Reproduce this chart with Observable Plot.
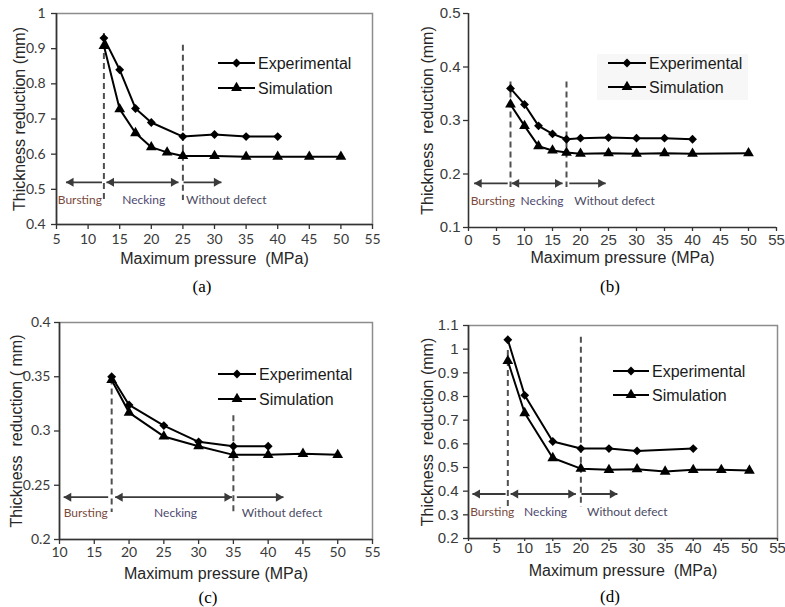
<!DOCTYPE html>
<html><head><meta charset="utf-8">
<script src="https://cdn.jsdelivr.net/npm/d3@7"></script>
<script src="https://cdn.jsdelivr.net/npm/@observablehq/plot@0.6"></script>
<style>
body{margin:0;background:#fff;}
#wrap{position:relative;width:785px;height:607px;overflow:hidden;background:#fff;}
.panel{position:absolute;}
.cap{position:absolute;font-family:"Liberation Serif","Times New Roman",serif;font-size:17px;color:#000;transform:translate(-50%,-50%);white-space:nowrap;}
#overlay{position:absolute;left:0;top:0;pointer-events:none;}
</style></head><body><div id="wrap"></div>
<script>
// ---------- data ----------
const regionNames = ["Bursting", "Necking", "Without defect"];
const regionColors = ["#7a4a3c", "#4e4870", "#4a4a62"];
const seriesNames = ["Experimental", "Simulation"];
const captions = ["(a)", "(b)", "(c)", "(d)"];

// panel (a)
const aExpX = [12.5, 15, 17.5, 20, 25, 30, 35, 40];
const aExpY = [0.93, 0.84, 0.73, 0.69, 0.65, 0.656, 0.65, 0.65];
const aSimX = [12.5, 15, 17.5, 20, 22.5, 25, 30, 35, 40, 45, 50];
const aSimY = [0.908, 0.728, 0.66, 0.62, 0.605, 0.595, 0.595, 0.593, 0.593, 0.593, 0.593];
const aXTicks = [5, 10, 15, 20, 25, 30, 35, 40, 45, 50, 55];
const aYTicks = [0.4, 0.5, 0.6, 0.7, 0.8, 0.9, 1];
const aDashX = [12.5, 25], aDashTop = [0.943, 0.91], aDashBottom = [0.463, 0.468];
const aArrowY = 0.52;
const aArrowFrom = [6.5, 12.9, 25.1], aArrowTo = [12.2, 24.3, 31.1];
const aHeadsLeft = [6.5, 12.9], aHeadsRight = [24.3, 31.1];
const aRegionX = [5.2, 15.4, 25.5], aRegionY = 0.47;

// panel (b)
const bExpX = [7.5, 10, 12.5, 15, 17.5, 20, 25, 30, 35, 40];
const bExpY = [0.36, 0.33, 0.29, 0.275, 0.265, 0.267, 0.268, 0.267, 0.267, 0.265];
const bSimX = [7.5, 10, 12.5, 15, 17.5, 20, 25, 30, 35, 40, 50];
const bSimY = [0.33, 0.29, 0.252, 0.244, 0.24, 0.238, 0.239, 0.238, 0.239, 0.238, 0.239];
const bXTicks = [0, 5, 10, 15, 20, 25, 30, 35, 40, 45, 50, 55];
const bYTicks = [0.1, 0.2, 0.3, 0.4, 0.5];
const bDashX = [7.5, 17.5], bDashTop = [0.372, 0.372], bDashBottom = [0.175, 0.175];
const bArrowY = 0.1825;
const bArrowFrom = [1.0, 7.7, 18.0], bArrowTo = [7.0, 16.8, 24.5];
const bHeadsLeft = [1.0, 7.7], bHeadsRight = [16.8, 24.5];
const bRegionX = [0.4, 9.3, 18.9], bRegionY = 0.15;

// panel (c)
const cExpX = [17.5, 20, 25, 30, 35, 40];
const cExpY = [0.35, 0.324, 0.305, 0.29, 0.286, 0.286];
const cSimX = [17.5, 20, 25, 30, 35, 40, 45, 50];
const cSimY = [0.347, 0.317, 0.295, 0.286, 0.278, 0.278, 0.279, 0.278];
const cXTicks = [10, 15, 20, 25, 30, 35, 40, 45, 50, 55];
const cYTicks = [0.2, 0.25, 0.3, 0.35, 0.4];
const cDashX = [17.5, 35], cDashTop = [0.348, 0.314], cDashBottom = [0.225, 0.224];
const cArrowY = 0.239;
const cArrowFrom = [10.6, 18.0, 35.5], cArrowTo = [17.0, 34.8, 42.2];
const cHeadsLeft = [10.6, 18.0], cHeadsRight = [34.8, 42.2];
const cRegionX = [10.6, 23.6, 36.2], cRegionY = 0.2245;

// panel (d)
const dExpX = [7, 10, 15, 20, 25, 30, 40];
const dExpY = [1.04, 0.805, 0.61, 0.58, 0.58, 0.57, 0.58];
const dSimX = [7, 10, 15, 20, 25, 30, 35, 40, 45, 50];
const dSimY = [0.95, 0.73, 0.54, 0.495, 0.49, 0.493, 0.483, 0.49, 0.49, 0.487];
const dXTicks = [0, 5, 10, 15, 20, 25, 30, 35, 40, 45, 50, 55];
const dYTicks = [0.2, 0.3, 0.4, 0.5, 0.6, 0.7, 0.8, 0.9, 1, 1.1];
const dDashX = [7, 20], dDashTop = [0.994, 1.05], dDashBottom = [0.331, 0.331];
const dArrowY = 0.388;
const dArrowFrom = [0.7, 7.5, 20.1], dArrowTo = [6.6, 19.1, 26.5];
const dHeadsLeft = [0.7, 7.5], dHeadsRight = [19.1, 26.5];
const dRegionX = [0.3, 9.9, 21.1], dRegionY = 0.31;

// ---------- drawing ----------
const fmt = d => String(+(+d).toFixed(2));
const wrap = document.getElementById("wrap");

function panel(c) {
  const exp = c.expX.map((x, i) => ({x, y: c.expY[i]}));
  const sim = c.simX.map((x, i) => ({x, y: c.simY[i]}));
  const dash = c.dashX.map((x, i) => ({x, y1: c.dashTop[i], y2: c.dashBottom[i]}));
  const arrows = c.arrowFrom.map((x1, i) => ({x1, x2: c.arrowTo[i], y: c.arrowY}));
  const hl = c.headsLeft.map(x => ({x, y: c.arrowY}));
  const hr = c.headsRight.map(x => ({x, y: c.arrowY}));
  const marks = [];
  if (c.framed) marks.push(Plot.frame({stroke: "#8c8c8c", strokeWidth: 1.5}));
  marks.push(
    Plot.ruleX([c.xDomain[0]], {stroke: "#333", strokeWidth: 1.6}),
    Plot.ruleY([c.yDomain[0]], {stroke: "#333", strokeWidth: 1.6}),
    Plot.axisX({ticks: c.xTicks, tickFormat: fmt, tickSize: c.xTickSize, tickPadding: c.xTickPad, label: null,
      fontSize: c.tickFont, fontFamily: c.tickFamily, fill: "#3a3a3a", stroke: "#333", strokeWidth: 1.3}),
    Plot.axisY({ticks: c.yTicks, tickFormat: fmt, tickSize: 5, tickPadding: c.yTickPad, label: null,
      fontSize: c.tickFont, fontFamily: c.tickFamily, fill: "#3a3a3a", stroke: "#333", strokeWidth: 1.3}),
    Plot.ruleX(dash, {x: "x", y1: "y1", y2: "y2", stroke: "#505050", strokeWidth: 2, strokeDasharray: "6,4"}),
    Plot.link(arrows, {x1: "x1", x2: "x2", y1: "y", y2: "y", stroke: "#3a3a3a", strokeWidth: 1.8}),
    Plot.dot(hl, {x: "x", y: "y", symbol: "triangle", rotate: -90, r: 3.3, fill: "#3a3a3a", dx: 5}),
    Plot.dot(hr, {x: "x", y: "y", symbol: "triangle", rotate: 90, r: 3.3, fill: "#3a3a3a", dx: -5}),
    ...regionNames.map((name, i) => Plot.text([{x: c.regionX[i], y: c.regionY, t: name}],
      {x: "x", y: "y", text: "t", textAnchor: "start", fill: regionColors[i], fontSize: 12, fontFamily: "Lato, 'Open Sans', sans-serif"})),
    Plot.line(exp, {x: "x", y: "y", stroke: "#000", strokeWidth: 2}),
    Plot.line(sim, {x: "x", y: "y", stroke: "#000", strokeWidth: 2}),
    Plot.dot(exp, {x: "x", y: "y", symbol: "diamond2", r: 4, fill: "#000"}),
    Plot.dot(sim, {x: "x", y: "y", symbol: "triangle", r: 4, fill: "#000"}),
    Plot.text([c.xLabel], {text: d => d, frameAnchor: "bottom", dy: c.xLabelDy, lineAnchor: "middle",
      fontSize: 16, fontFamily: "'Liberation Sans', Arial, sans-serif", fill: "#262626"}),
    Plot.text([c.yLabel], {text: d => d, frameAnchor: "left", dx: c.yLabelDx, rotate: -90, lineAnchor: "middle",
      textAnchor: "middle", fontSize: 16, fontFamily: "'Liberation Sans', Arial, sans-serif", fill: "#262626"})
  );
  const p = Plot.plot({
    width: c.w, height: c.h,
    marginLeft: c.ml, marginRight: c.mr, marginTop: c.mt, marginBottom: c.mb,
    x: {domain: c.xDomain, axis: null},
    y: {domain: c.yDomain, axis: null},
    style: {background: "transparent", color: "#333", overflow: "visible"},
    marks
  });
  const div = document.createElement("div");
  div.className = "panel";
  div.style.left = c.left + "px";
  div.style.top = c.top + "px";
  div.appendChild(p);
  wrap.appendChild(div);
}

panel({left: 0, top: 0, w: 390, h: 300, ml: 56, mr: 18, mt: 13, mb: 76, framed: true,
  xDomain: [5, 55], yDomain: [0.4, 1], xTicks: aXTicks, yTicks: aYTicks,
  expX: aExpX, expY: aExpY, simX: aSimX, simY: aSimY,
  dashX: aDashX, dashTop: aDashTop, dashBottom: aDashBottom,
  arrowY: aArrowY, arrowFrom: aArrowFrom, arrowTo: aArrowTo, headsLeft: aHeadsLeft, headsRight: aHeadsRight,
  regionX: aRegionX, regionY: aRegionY,
  tickFont: 14, tickFamily: "Lato, 'Open Sans', sans-serif", xTickSize: 5, xTickPad: 5, yTickPad: 6,
  xLabel: "Maximum pressure  (MPa)", xLabelDy: 34, yLabel: "Thickness reduction (mm)", yLabelDx: -37});

panel({left: 390, top: 0, w: 395, h: 300, ml: 78, mr: 9, mt: 13, mb: 73, framed: false,
  xDomain: [0, 55], yDomain: [0.1, 0.5], xTicks: bXTicks, yTicks: bYTicks,
  expX: bExpX, expY: bExpY, simX: bSimX, simY: bSimY,
  dashX: bDashX, dashTop: bDashTop, dashBottom: bDashBottom,
  arrowY: bArrowY, arrowFrom: bArrowFrom, arrowTo: bArrowTo, headsLeft: bHeadsLeft, headsRight: bHeadsRight,
  regionX: bRegionX, regionY: bRegionY,
  tickFont: 15, tickFamily: "'Liberation Sans', Arial, sans-serif", xTickSize: 4, xTickPad: 3, yTickPad: 3,
  xLabel: "Maximum pressure (MPa)", xLabelDy: 30, yLabel: "Thickness  reduction (mm)", yLabelDx: -41});

panel({left: 0, top: 300, w: 390, h: 307, ml: 59, mr: 18, mt: 22, mb: 68, framed: true,
  xDomain: [10, 55], yDomain: [0.2, 0.4], xTicks: cXTicks, yTicks: cYTicks,
  expX: cExpX, expY: cExpY, simX: cSimX, simY: cSimY,
  dashX: cDashX, dashTop: cDashTop, dashBottom: cDashBottom,
  arrowY: cArrowY, arrowFrom: cArrowFrom, arrowTo: cArrowTo, headsLeft: cHeadsLeft, headsRight: cHeadsRight,
  regionX: cRegionX, regionY: cRegionY,
  tickFont: 14, tickFamily: "Lato, 'Open Sans', sans-serif", xTickSize: 5, xTickPad: 3, yTickPad: 4,
  xLabel: "Maximum pressure (MPa)", xLabelDy: 34, yLabel: "Thickness  reduction ( mm)", yLabelDx: -43});

panel({left: 390, top: 300, w: 395, h: 307, ml: 78, mr: 8, mt: 25, mb: 69, framed: true,
  xDomain: [0, 55], yDomain: [0.2, 1.1], xTicks: dXTicks, yTicks: dYTicks,
  expX: dExpX, expY: dExpY, simX: dSimX, simY: dSimY,
  dashX: dDashX, dashTop: dDashTop, dashBottom: dDashBottom,
  arrowY: dArrowY, arrowFrom: dArrowFrom, arrowTo: dArrowTo, headsLeft: dHeadsLeft, headsRight: dHeadsRight,
  regionX: dRegionX, regionY: dRegionY,
  tickFont: 15, tickFamily: "'Liberation Sans', Arial, sans-serif", xTickSize: 3, xTickPad: 1, yTickPad: 5,
  xLabel: "Maximum pressure  (MPa)", xLabelDy: 32, yLabel: "Thickness  reduction (mm)", yLabelDx: -41});

// ---------- legends and captions ----------
const ov = d3.select("#wrap").append("svg").attr("id", "overlay").attr("width", 785).attr("height", 607);
ov.append("rect").attr("x", 597).attr("y", 54).attr("width", 151).attr("height", 46).attr("fill", "#f7f7f7");
const legends = [
  {x1: 218, x2: 255, ys: [63, 88], tx: 258},
  {x1: 608, x2: 646, ys: [63, 87], tx: 649},
  {x1: 218, x2: 256, ys: [374, 399], tx: 259},
  {x1: 613, x2: 649, ys: [371, 395], tx: 652}
];
const symArea = Math.PI * 16;
const syms = [d3.symbol(d3.symbolDiamond2, symArea)(), d3.symbol(d3.symbolTriangle, symArea)()];
legends.forEach(L => {
  L.ys.forEach((y, i) => {
    ov.append("line").attr("x1", L.x1).attr("x2", L.x2).attr("y1", y).attr("y2", y).attr("stroke", "#000").attr("stroke-width", 2);
    ov.append("path").attr("d", syms[i]).attr("transform", `translate(${(L.x1 + L.x2) / 2},${y})`).attr("fill", "#000");
    ov.append("text").attr("x", L.tx).attr("y", y).attr("dy", "0.35em").text(seriesNames[i])
      .attr("font-family", "'Liberation Sans', Arial, sans-serif").attr("font-size", 16).attr("fill", "#1a1a1a");
  });
});
const capPos = [[202, 287], [610, 287], [208, 598], [610, 597]];
captions.forEach((t, i) => {
  const d = document.createElement("div");
  d.className = "cap";
  d.style.left = capPos[i][0] + "px";
  d.style.top = capPos[i][1] + "px";
  d.textContent = t;
  wrap.appendChild(d);
});
</script>
</body></html>
